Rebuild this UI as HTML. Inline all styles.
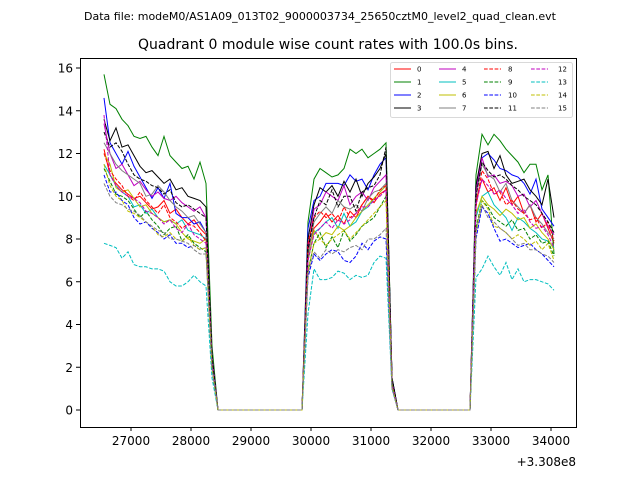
<!DOCTYPE html>
<html><head><meta charset="utf-8"><style>
body{margin:0;background:#fff;}
svg{display:block;font-family:"DejaVu Sans","Liberation Sans",sans-serif;}
</style></head><body>
<svg id="chart" width="640" height="480" viewBox="0 0 640 480">
<rect width="640" height="480" fill="#fff"/>
<text x="320" y="20" font-size="11" text-anchor="middle">Data file: modeM0/AS1A09_013T02_9000003734_25650cztM0_level2_quad_clean.evt</text>
<text x="328" y="49" font-size="14" text-anchor="middle">Quadrant 0 module wise count rates with 100.0s bins.</text>
<g id="plot"></g>
<rect x="80.5" y="58.5" width="496" height="369" fill="none" stroke="#000" stroke-width="1"/>
<g id="axes"></g>
<text x="576" y="466" font-size="12" text-anchor="end">+3.308e8</text>
<g id="legend"></g>
</svg>
<script>
const seriesNames=["0","1","2","3","4","5","6","7","8","9","10","11","12","13","14","15"];
const seriesColors=["#ff0000","#008000","#0000ff","#000000","#bf00bf","#00bfbf","#bfbf00","#808080","#ff0000","#008000","#0000ff","#000000","#bf00bf","#00bfbf","#bfbf00","#808080"];
const seg1Start=26550, seg2Start=29950, seg3Start=32750, binSize=100;
const xTicks=[27000,28000,29000,30000,31000,32000,33000,34000];
const yTicks=[0,2,4,6,8,10,12,14,16];
const seg1=[
[12.2,11.0,10.6,10.3,10.1,9.9,10.0,9.7,9.4,9.5,9.8,9.2,9.4,9.0,8.7,8.9,8.5,8.2,2.5,0],
[15.7,14.3,14.1,13.6,13.3,12.8,12.7,12.8,12.3,11.9,12.8,11.9,11.6,11.3,11.4,10.8,11.6,10.6,3,0],
[14.6,12.5,12.0,11.5,12.1,11.4,10.9,10.4,9.9,10.4,9.9,10.6,9.2,9.0,9.0,8.7,8.8,8.3,2.5,0],
[13.6,12.6,13.2,12.3,12.4,11.9,11.4,11.1,11.2,10.9,10.6,10.8,10.3,10.4,10.0,9.9,9.8,9.5,2.5,0],
[13.4,12.0,11.3,11.5,11.0,10.5,10.7,10.3,10.0,10.2,9.9,9.8,10.0,9.7,9.5,9.3,9.5,9.0,2.5,0],
[11.5,11.0,10.5,10.2,10.0,9.5,9.6,9.2,9.4,9.0,8.8,8.9,8.7,8.9,8.4,8.3,8.2,8.0,2,0],
[12.0,11.5,10.4,10.2,10.3,9.9,9.5,9.6,9.2,9.0,8.8,8.9,8.7,8.3,8.0,7.9,7.8,8.0,2,0],
[12.5,12.0,11.5,11.2,11.0,10.8,10.6,10.0,10.1,10.5,10.2,9.8,9.5,9.3,9.0,9.1,8.7,8.3,2,0],
[12.0,11.2,10.8,10.5,10.0,9.8,10.2,9.8,9.5,9.2,9.6,9.0,8.8,8.5,8.7,8.6,8.3,7.9,2,0],
[11.3,10.7,10.1,10.0,9.8,9.4,9.0,9.3,8.9,8.6,8.2,8.5,8.6,7.9,8.2,7.8,7.6,7.4,2,0],
[11.0,10.2,10.2,9.8,9.6,9.0,8.7,8.8,8.5,8.3,8.0,8.2,7.8,7.8,7.6,7.7,7.5,7.6,2,0],
[13.0,12.3,12.5,12.1,11.5,11.0,10.8,10.7,10.5,10.4,10.1,10.3,9.7,9.5,9.6,9.4,9.2,9.0,2.5,0],
[13.8,11.0,10.5,10.2,10.0,9.9,9.7,9.3,9.2,9.0,8.7,8.9,8.5,8.3,8.7,8.2,8.0,7.8,2,0],
[7.8,7.7,7.6,7.1,7.4,6.8,6.7,6.7,6.6,6.6,6.5,6.0,5.8,5.8,6.0,6.3,6.0,5.8,1.5,0],
[11.5,10.5,10.0,9.8,9.3,9.2,9.0,8.8,8.6,8.2,8.1,8.3,8.0,7.9,8.1,7.7,7.5,7.6,2,0],
[10.6,10.0,9.7,9.6,9.4,9.3,9.1,8.8,8.6,8.4,8.3,8.0,8.0,7.9,7.8,7.5,7.3,7.3,2,0]];
const seg2=[
[7.5,8.5,8.8,9.2,8.8,9.1,8.7,9.3,9.0,9.6,10.0,9.7,10.1,10.3,1.2],
[8.8,10.8,11.3,11.1,10.9,11.0,11.3,12.2,12.0,12.2,11.8,12.0,12.2,12.5,1.5],
[8.5,9.8,10.0,10.6,10.6,10.6,10.5,11.0,10.7,10.8,10.3,11.0,11.5,11.8,1.5],
[8.0,9.6,10.4,10.2,10.5,10.0,10.7,10.2,10.8,10.0,10.6,10.9,11.3,12.0,1.5],
[7.5,9.4,9.6,10.2,10.0,9.8,10.5,9.6,10.0,10.2,9.8,10.4,10.7,11.0,1.3],
[7.0,8.3,8.5,8.8,9.0,8.5,9.2,8.6,8.8,9.3,9.5,9.9,10.2,10.5,1.2],
[7.0,8.4,8.0,8.3,8.2,8.6,8.4,8.6,9.0,9.3,9.6,9.9,10.2,10.5,1.2],
[7.2,8.8,9.2,9.5,9.2,9.8,9.5,9.4,9.6,9.3,9.9,10.2,10.3,10.6,1.3],
[7.8,9.0,9.3,9.0,9.2,8.8,9.5,9.0,9.2,9.6,10.0,9.8,10.3,10.5,1.2],
[6.5,7.8,8.3,7.6,8.1,7.6,8.4,7.9,8.2,8.6,8.8,9.0,9.5,10.0,1.2],
[6.2,7.3,7.0,7.3,7.5,7.4,7.0,6.9,7.2,7.8,7.5,7.9,8.1,8.0,1.0],
[7.5,9.0,9.8,9.6,10.3,9.5,10.0,10.0,9.3,10.2,10.4,10.5,11.0,12.3,1.5],
[7.0,8.2,8.5,8.8,8.5,8.9,8.7,8.9,9.2,9.5,9.5,9.8,10.0,10.3,1.2],
[4.5,6.6,6.1,6.1,6.2,6.5,6.4,6.1,6.3,6.2,6.3,6.9,7.2,7.1,1.0],
[6.5,7.8,8.0,7.7,8.0,8.2,8.4,8.0,8.3,8.6,8.9,9.2,9.5,9.8,1.1],
[6.4,7.4,7.1,7.5,7.3,7.5,7.4,7.6,7.7,7.5,8.0,8.0,8.2,8.5,1.0]];
const seg3=[
[9.8,10.8,10.2,10.4,9.8,10.4,9.6,10.0,9.2,9.6,8.8,9.2,8.5,7.8],
[11.0,12.9,12.4,12.9,12.6,12.2,11.9,11.6,11.1,11.5,11.5,10.3,11.0,7.3],
[10.5,11.8,12.0,11.7,11.3,11.2,11.0,10.9,10.6,10.1,10.8,9.4,9.0,8.6],
[10.5,12.0,12.1,11.3,11.9,11.0,10.6,10.7,10.8,10.3,10.0,9.6,10.8,9.0],
[10.2,11.8,10.9,11.0,10.6,10.7,10.5,10.0,10.1,9.5,9.8,9.2,8.6,8.2],
[9.0,10.0,10.2,9.6,9.3,9.0,8.4,9.0,8.8,8.5,8.3,8.0,7.9,7.6],
[9.2,10.0,9.6,9.4,9.1,9.4,9.2,8.9,9.0,8.5,8.7,8.3,8.0,7.5],
[10.0,11.5,11.0,10.8,10.2,10.6,9.8,9.5,9.2,9.6,9.0,8.7,8.3,8.0],
[9.5,11.2,10.8,10.1,10.2,9.6,9.8,9.4,9.2,8.9,9.0,8.5,8.8,7.9],
[8.5,9.8,9.5,9.0,8.8,8.6,8.9,8.4,8.5,8.0,8.2,7.8,7.9,7.2],
[8.0,9.5,9.2,8.5,7.9,8.0,7.8,7.6,7.7,7.8,7.5,7.3,7.0,6.7],
[10.0,11.6,11.2,10.9,11.0,10.8,10.5,10.3,10.0,9.8,9.6,9.2,8.8,8.3],
[9.6,10.8,10.5,10.1,10.3,9.9,9.6,9.2,9.4,8.8,8.5,8.6,8.2,7.6],
[6.2,6.6,7.2,6.7,6.3,6.9,6.1,6.6,6.0,6.1,6.1,6.0,5.9,5.6],
[8.3,9.8,9.4,8.6,8.5,8.3,8.0,8.2,8.0,7.7,7.9,7.5,7.8,7.0],
[8.3,9.6,9.0,8.8,8.5,8.3,8.0,7.7,7.8,7.5,7.5,7.3,7.2,6.9]];

const NS="http://www.w3.org/2000/svg";
function xs(t){return 131+(t-27000)*0.06;}
function ys(v){return 410-v*21.375;}
function mk(tag,attrs,parent){const e=document.createElementNS(NS,tag);for(const k in attrs)e.setAttribute(k,attrs[k]);parent.appendChild(e);return e;}
const plot=document.getElementById('plot'), axes=document.getElementById('axes'), legend=document.getElementById('legend');

function buildSeries(i){
  const pts=[];
  seg1[i].forEach((v,k)=>pts.push([seg1Start+k*binSize,v]));
  for(let t=seg1Start+seg1[i].length*binSize;t<seg2Start;t+=binSize)pts.push([t,0]);
  seg2[i].forEach((v,k)=>pts.push([seg2Start+k*binSize,v]));
  for(let t=seg2Start+seg2[i].length*binSize;t<seg3Start;t+=binSize)pts.push([t,0]);
  seg3[i].forEach((v,k)=>pts.push([seg3Start+k*binSize,v]));
  return pts;
}
for(let i=0;i<seriesNames.length;i++){
  const pts=buildSeries(i);
  const p=mk('polyline',{points:pts.map(p=>xs(p[0]).toFixed(1)+','+ys(p[1]).toFixed(1)).join(' '),fill:'none',stroke:seriesColors[i],'stroke-width':1,'stroke-dasharray':i>=8?'3.7,1.6':'none'},plot);
  
  
}
xTicks.forEach(t=>{
  const l=mk('line',{x1:xs(t),x2:xs(t),y1:427,y2:431,stroke:'#000'},axes);
  
  
  const tx=mk('text',{x:xs(t),y:445,'font-size':12,'text-anchor':'middle'},axes);
  tx.textContent=t;
  
  
});
yTicks.forEach(v=>{
  const l=mk('line',{x1:76,x2:80,y1:ys(v),y2:ys(v),stroke:'#000'},axes);
  
  
  const tx=mk('text',{x:73,y:ys(v)+4.5,'font-size':12,'text-anchor':'end'},axes);
  tx.textContent=v;
  
  
});
const lb=mk('rect',{x:390.5,y:62.5,width:182,height:55,rx:2,fill:'#fff',stroke:'#d9d9d9'},legend);


const colX=[394,439,484,531], labX=[417,462,508,558], rowY=[69,82,95,108];
for(let i=0;i<seriesNames.length;i++){
  const c=Math.floor(i/4), r=i%4;
  const g=mk('g',{},legend);
  
  
  mk('line',{x1:colX[c],x2:colX[c]+17,y1:rowY[r],y2:rowY[r],stroke:seriesColors[i],'stroke-width':1,'stroke-dasharray':i>=8?'3.7,1.6':'none'},g);
  const tx=mk('text',{x:labX[c],y:rowY[r]+2.5,'font-size':7},g);
  tx.textContent=seriesNames[i];
}
</script>
</body></html>
